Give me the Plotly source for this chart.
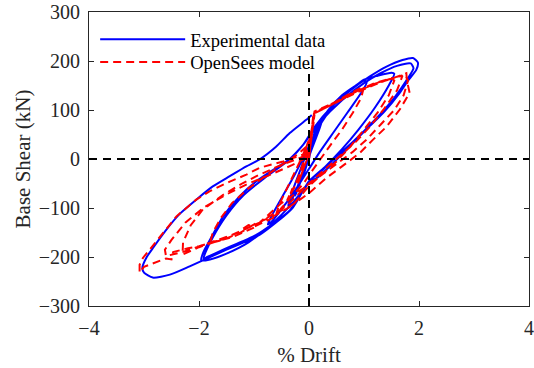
import plotly.graph_objects as go

# ---------------- data ----------------
# Experimental data (blue, solid): % drift and base shear (kN)
exp_drift = [0, 0.05, 0.1, 0.05, -0.05, -0.12, -0.05, 0.08, 0.15, 0.1, -0.05, -0.2, -0.25, -0.15, 0,
             0.15, 0.25, 0.2, 0.05, -0.1, -0.3, -0.38, -0.3, -0.15, 0, 0.2, 0.35,
             0.6, 0.85, 1.0, 1.05, 0.95, 0.7, 0.45, 0.2, 0, -0.2, -0.45, -0.7, -0.75, -0.65, -0.45,
             -0.25, -0.05, 0.15, 0.45, 0.75, 1.0,
             1.25, 1.5, 1.55, 1.45, 1.2, 0.9, 0.6, 0.3, 0.05, -0.3, -0.7, -1.1, -1.5, -1.8, -1.96,
             -1.92, -1.8, -1.56, -1.26, -0.95, -0.65, -0.35, -0.1, 0.1, 0.4, 0.75, 1.1, 1.4, 1.7,
             1.89, 1.98, 1.95, 1.8, 1.65, 1.35, 1.04, 0.74, 0.44, 0.15, 0, -0.35, -0.96, -1.56, -1.85,
             -1.92, -1.88, -1.75, -1.5, -1.2, -0.8, -0.4, -0.1, 0.2, 0.6, 1.0, 1.3, 1.6, 1.85, 1.9,
             1.8, 1.55, 1.2, 0.8, 0.5, 0.22, 0, -0.3, -0.9, -1.5, -2.17, -2.53, -2.84, -3.0, -3.03,
             -2.95, -2.84, -2.6, -2.35, -2.05, -1.75, -1.44, -1.14, -0.9, -0.6, -0.35, -0.05, 0.05]
exp_shear = [0, 30, 55, 35, -10, -40, -15, 40, 65, 45, -15, -60, -75, -40, 5,
             60, 85, 65, 20, -25, -80, -95, -65, -20, 25, 75, 100,
             130, 150, 160, 157, 135, 95, 55, 15, -20, -55, -95, -130, -133, -110, -70,
             -30, 15, 60, 110, 140, 162,
             170, 176, 174, 150, 105, 60, 20, -15, -40, -90, -135, -170, -193, -205, -207,
             -190, -165, -117, -76, -45, -22, 0, 30, 65, 105, 140, 168, 188, 202,
             206, 197, 182, 160, 135, 94, 60, 26, -8, -38, -48, -105, -155, -185, -200,
             -204, -190, -160, -115, -75, -38, -5, 30, 75, 120, 155, 175, 190, 195, 185,
             165, 125, 80, 35, 5, -25, -45, -100, -155, -185, -219, -236, -242, -232, -222,
             -200, -182, -145, -112, -83, -56, -35, -15, -1, 25, 53, 80, 90]

# OpenSees model (red, dashed)
ops_drift = [0, 0.03, 0.06, 0.02, -0.05, -0.15, -0.1, -0.2, -0.12, 0, 0.05, 0.08, 0.04, -0.08,
             -0.25, -0.35, -0.3, -0.4, -0.3, -0.15, 0, 0.07, 0.1,
             0.3, 0.5, 0.7, 0.85, 1.0, 0.95, 0.8, 0.6, 0.4, 0.2, 0.05, -0.1, -0.3, -0.5, -0.6,
             -0.55, -0.4, -0.25, -0.1, 0.05, 0.1,
             0.4, 0.8, 1.2, 1.5, 1.55, 1.45, 1.25, 1.0, 0.75, 0.5, 0.25, 0, -0.3, -0.65, -0.96,
             -1.26, -1.56, -1.8, -1.75, -1.6, -1.4, -1.1, -0.8, -0.5, -0.2, 0, 0.08, 0.1,
             0.44, 0.8, 1.16, 1.53, 1.77, 1.78, 1.83, 1.65, 1.41, 1.16, 0.92, 0.6, 0.3, 0, -0.35,
             -0.6, -0.65, -1.0, -1.1, -1.3, -1.6, -2.0, -2.3, -2.29, -2.15, -1.93, -1.56, -1.2,
             -0.9, -0.5, -0.1, 0.05, 0.08,
             0.4, 0.9, 1.3, 1.7, 1.6, 1.35, 1.1, 0.85, 0.55, 0.25, 0, -0.4, -0.9, -1.4, -1.9,
             -2.3, -2.6, -2.62, -2.5, -2.25, -1.9, -1.5, -1.1, -0.7, -0.3, 0, 0.06, 0.09,
             0.4, 0.8, 1.2, 1.5, 1.75, 1.8, 1.72, 1.55, 1.3, 1.05, 0.8, 0.5, 0.2, -0.1, -0.5,
             -1.0, -1.4, -1.7, -2.0, -2.2, -2.47, -2.5, -2.6, -2.8, -3.0, -3.08, -3.08,
             -3.02, -2.71, -2.41, -2.05, -1.81, -1.44, -1.14, -0.9, -0.47, -0.11, 0.05, 0.1]
ops_shear = [0, 35, 60, 30, -5, -35, -20, -50, -30, 10, 50, 80, 55, 0,
             -55, -75, -60, -85, -65, -25, 20, 70, 95,
             105, 118, 130, 140, 148, 125, 95, 60, 30, 0, -25, -50, -75, -100, -115,
             -95, -60, -25, 10, 50, 95,
             112, 135, 155, 165, 160, 130, 95, 60, 25, -5, -30, -55, -95, -117, -131,
             -151, -165, -172, -150, -120, -90, -60, -35, -12, 10, 30, 70, 97,
             114, 135, 152, 165, 175, 160, 135, 101, 66, 39, 12, -15, -40, -70, -97,
             -110, -120, -138, -135, -150, -165, -180, -195, -170, -135, -103, -73, -49,
             -32, -12, 5, 60, 92,
             110, 140, 158, 170, 140, 100, 65, 35, 5, -25, -50, -95, -130, -155, -175,
             -190, -198, -185, -165, -130, -98, -72, -50, -32, -12, 5, 55, 93,
             110, 132, 152, 165, 172, 160, 130, 100, 70, 40, 15, -10, -35, -60, -90,
             -140, -160, -168, -178, -182, -190, -205, -203, -212, -220, -232, -216,
             -202, -158, -117, -83, -66, -46, -32, -18, -5, 9, 50, 90]

x_ticks = [-4, -2, 0, 2, 4]
y_ticks = [-300, -200, -100, 0, 100, 200, 300]
x_range = [-4, 4]
y_range = [-300, 300]

FONT = "Liberation Serif"

fig = go.Figure()
fig.add_trace(go.Scatter(x=exp_drift, y=exp_shear, mode="lines", name="Experimental data",
                         legend="legend",
                         line=dict(color="#0000FF", width=2, shape="spline", smoothing=0.6)))
fig.add_trace(go.Scatter(x=ops_drift, y=ops_shear, mode="lines", name="OpenSees model",
                         legend="legend2",
                         line=dict(color="#FF0000", width=2, dash="8px,5px")))

# zero reference lines
fig.add_shape(type="line", xref="paper", yref="y", x0=0, x1=1, y0=0, y1=0,
              line=dict(color="black", width=2, dash="8px,6px"), layer="above")
fig.add_shape(type="line", xref="x", yref="y", x0=0, x1=0, y0=-300, y1=188,
              line=dict(color="black", width=2, dash="8px,6px"), layer="above")

axis_common = dict(showline=True, linecolor="#262626", linewidth=1, mirror="ticks",
                   ticks="inside", ticklen=5, tickcolor="#262626", showgrid=False,
                   zeroline=False, automargin=False, ticklabeloverflow="allow",
                   tickfont=dict(family=FONT, size=20, color="#262626"))
fig.update_xaxes(range=x_range, tickvals=x_ticks, ticklabelstandoff=4,
                 title=dict(text="% Drift", font=dict(family=FONT, size=21, color="#262626"),
                            standoff=9), **axis_common)
fig.update_yaxes(range=y_range, tickvals=y_ticks, ticklabelstandoff=4,
                 title=dict(text="Base Shear (kN)", font=dict(family=FONT, size=21, color="#262626"),
                            standoff=2), **axis_common)

legend_common = dict(xanchor="left", yanchor="top", bgcolor="rgba(0,0,0,0)",
                     font=dict(family=FONT, size=18.5, color="black"), itemwidth=85)
fig.update_layout(
    width=534, height=368,
    margin=dict(l=89, r=5, t=12, b=62, autoexpand=False),
    paper_bgcolor="white", plot_bgcolor="white",
    showlegend=True,
    legend=dict(x=0.014, y=0.970, **legend_common),
    legend2=dict(x=0.014, y=0.893, **legend_common),
)

fig.write_html("out.html", config={"displayModeBar": False},
               post_script="document.body.style.margin='0px';")
